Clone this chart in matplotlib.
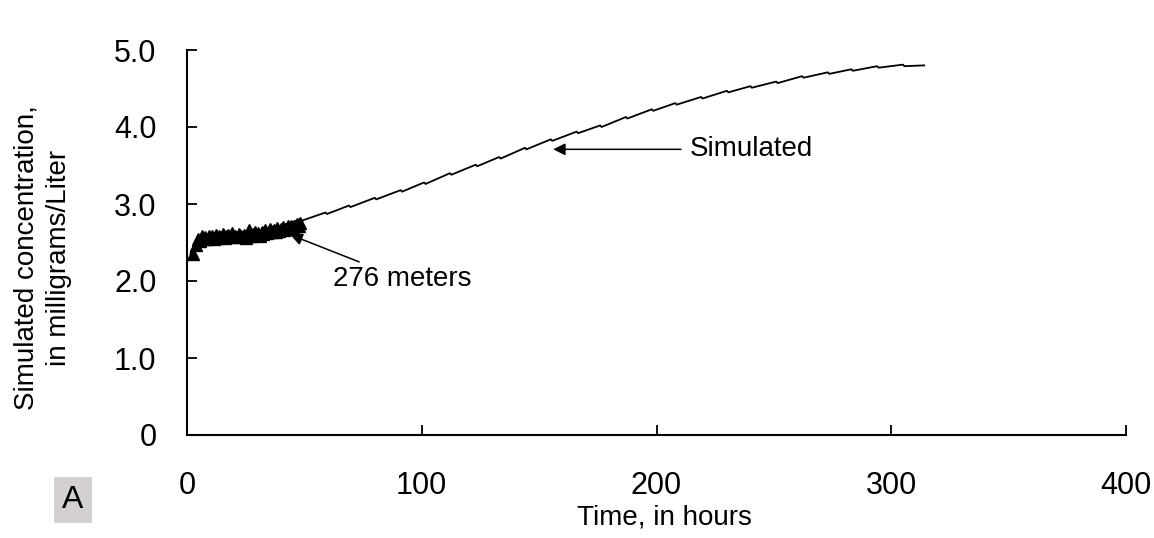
import matplotlib
matplotlib.use("Agg")
import matplotlib.pyplot as plt

plt.rcParams['font.family'] = ['Liberation Sans', 'DejaVu Sans']

# ---- simulated curve (hours, mg/L), small notch at each pumping cycle ----
simTime = [1.5, 3, 5, 5.6, 16, 16.6, 26, 26.6, 37, 37.6, 48, 48.6, 59, 59.6,
           69, 69.6, 80, 80.6, 91, 91.6, 101, 101.6, 112, 112.6, 123, 123.6,
           133, 133.6, 144, 144.6, 155, 155.6, 166, 166.6, 176, 176.6,
           187, 187.6, 198, 198.6, 208, 208.6, 219, 219.6, 230, 230.6,
           240, 240.6, 251, 251.6, 262, 262.6, 273, 273.6, 283, 283.6,
           294, 294.6, 305, 305.6, 314]
simConc = [2.36, 2.46, 2.53, 2.51, 2.59, 2.57, 2.64, 2.62, 2.71, 2.69, 2.80, 2.78, 2.89, 2.87,
           2.98, 2.96, 3.08, 3.06, 3.18, 3.16, 3.28, 3.26, 3.40, 3.38, 3.51, 3.49,
           3.61, 3.59, 3.73, 3.71, 3.84, 3.82, 3.94, 3.92, 4.02, 4.00,
           4.13, 4.11, 4.23, 4.21, 4.31, 4.29, 4.39, 4.37, 4.47, 4.45,
           4.53, 4.51, 4.59, 4.57, 4.66, 4.64, 4.71, 4.69, 4.75, 4.73,
           4.79, 4.77, 4.81, 4.79, 4.80]

# ---- observed at 276 meters ----
obsTime = [2.6, 4.0, 4.8, 5.5, 6.3, 7.0, 7.8, 8.5, 9.3, 10.0, 10.8, 11.5, 12.3, 13.0,
           13.8, 14.5, 15.3, 16.0, 16.8, 17.5, 18.3, 19.0, 19.8, 20.5, 21.3, 22.0,
           22.8, 23.5, 24.3, 25.0, 25.8, 26.5, 27.3, 28.0, 28.8, 29.5, 30.3, 31.0,
           31.8, 32.5, 33.3, 34.0, 34.8, 35.5, 36.3, 37.0, 37.8, 38.5, 39.3, 40.0,
           40.8, 41.5, 42.3, 43.0, 43.8, 44.5, 45.3, 46.0, 46.8, 47.5, 48.3]
obsConc = [2.35, 2.47, 2.55, 2.52, 2.58, 2.54, 2.57, 2.55, 2.59, 2.56, 2.58, 2.55, 2.60, 2.56,
           2.59, 2.57, 2.61, 2.56, 2.58, 2.60, 2.57, 2.62, 2.58, 2.59, 2.57, 2.61,
           2.58, 2.57, 2.60, 2.56, 2.58, 2.66, 2.59, 2.61, 2.63, 2.60, 2.62, 2.59,
           2.64, 2.61, 2.66, 2.62, 2.64, 2.68, 2.63, 2.66, 2.64, 2.69, 2.65, 2.67,
           2.70, 2.66, 2.68, 2.71, 2.67, 2.72, 2.69, 2.71, 2.74, 2.72, 2.75]

xTicks = [0, 100, 200, 300, 400]
yTicks = [0, 1, 2, 3, 4, 5]
yTickLabels = ["0", "1.0", "2.0", "3.0", "4.0", "5.0"]

fig = plt.figure(figsize=(11.54, 5.38), dpi=100)
ax = fig.add_axes([187/1154, 1 - 435/538, (1126 - 187)/1154, (435 - 50)/538])

ax.plot(simTime, simConc, color='black', lw=1.3, zorder=2)
ax.plot(obsTime, obsConc, linestyle='none', marker='^', color='black',
        markersize=9, zorder=3)

ax.set_xlim(0, 400)
ax.set_ylim(0, 5)
ax.set_xticks(xTicks)
ax.set_yticks(yTicks)
ax.set_yticklabels(yTickLabels)
for side in ['top', 'right']:
    ax.spines[side].set_visible(False)
for side in ['left', 'bottom']:
    ax.spines[side].set_linewidth(1.5)
ax.tick_params(axis='both', direction='in', length=7, width=1.3, labelsize=22)
ax.tick_params(axis='x', pad=26)
ax.tick_params(axis='y', pad=22)

ax.annotate("Simulated", xy=(156, 3.71), xytext=(214, 3.71),
            fontsize=20, va='center', ha='left',
            arrowprops=dict(arrowstyle='-|>', color='black', lw=1.1,
                            mutation_scale=18, shrinkA=4, shrinkB=0))
ax.annotate("276 meters", xy=(44, 2.6), xytext=(62, 2.03),
            fontsize=20, va='center', ha='left',
            arrowprops=dict(arrowstyle='-|>', color='black', lw=1.1,
                            mutation_scale=18, shrinkA=2, shrinkB=0))

fig.text(664/1154, 1 - 518/538, "Time, in hours", fontsize=20, ha='center', va='center')
fig.text(43/1154, 1 - 258/538, "Simulated concentration,\nin milligrams/Liter",
         fontsize=20, ha='center', va='center', rotation=90, multialignment='center',
         linespacing=1.3)
fig.text(73/1154, 1 - 500/538, "A", fontsize=23, ha='center', va='center',
         bbox=dict(boxstyle='square,pad=0.25', facecolor='#d3d0cf', edgecolor='none'))

fig.savefig("out.png", dpi=100)
